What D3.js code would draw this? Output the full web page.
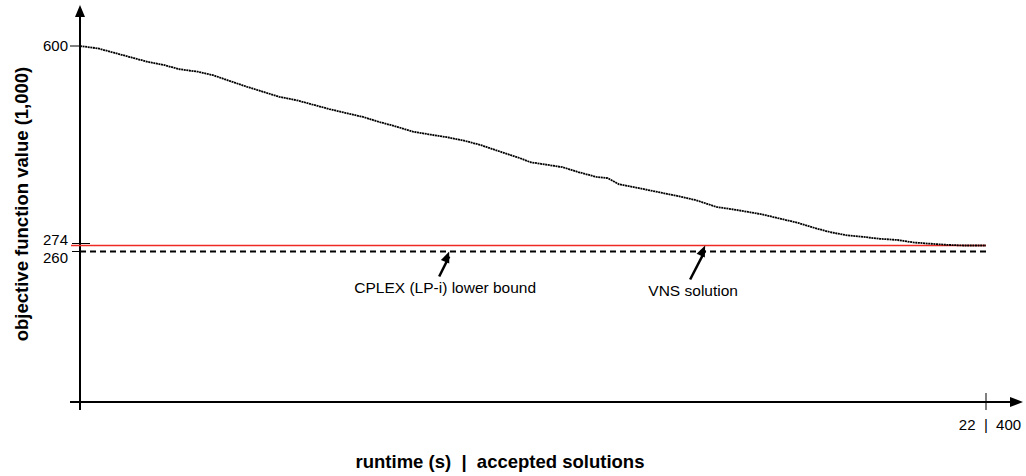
<html>
<head>
<style>
  body { margin: 0; background: #fff; }
  svg text { font-family: "Liberation Sans", Arial, sans-serif; fill: #000; }
  .tick-label { font-size: 15px; }
  .note { font-size: 15.5px; }
  .title { font-size: 18.5px; font-weight: bold; }
</style>
<script src="https://d3js.org/d3.v7.min.js"></script>
</head>
<body>
<svg width="1026" height="476"></svg>
<script>
// accepted solutions (x) and objective value in 1,000 (y)
const solutions = [0, 8, 15, 22, 30, 37, 44, 52, 59, 66, 74, 81, 88, 96, 103, 110, 118, 125, 132, 140,
  147, 155, 162, 170, 177, 185, 194, 199, 206, 213, 220, 228, 233, 238, 245, 257, 265, 272, 281, 290,
  301, 309, 317, 324, 331, 338, 346, 353, 361, 368, 375, 383, 390, 400];
const objective = [600, 596, 589, 582, 574, 569, 562, 558, 552, 543, 533, 525, 517, 511, 504, 497, 490, 484, 476, 468,
  460, 455, 451, 445, 438, 428, 417, 410, 406, 402, 394, 386, 384, 374, 369, 360, 354, 348, 337, 332,
  325, 318, 311, 303, 296, 291, 288, 285, 283, 279, 277, 275, 274, 274];

const yTicks = [600, 274, 260];
const vnsValue = 274;
const cplexValue = 260;
const xEndLabel = "22  |  400";
const xMax = 400;

const svg = d3.select("svg");

// the picture is a sketch: bounds are squeezed, so a piecewise scale
const xs = d3.scaleLinear().domain([0, xMax]).range([80, 986]);
const ys = d3.scaleLinear().domain([0, cplexValue, vnsValue, 600]).range([402, 251.5, 245.5, 46]);

// axes with arrow heads
svg.append("line").attr("x1", 80).attr("x2", 80).attr("y1", 410).attr("y2", 15)
  .attr("stroke", "#000").attr("stroke-width", 2);
svg.append("path").attr("d", "M80,5 L75,17 L85,17 Z").attr("fill", "#000");
svg.append("line").attr("x1", 70).attr("x2", 1011).attr("y1", 402).attr("y2", 402)
  .attr("stroke", "#000").attr("stroke-width", 2);
svg.append("path").attr("d", "M1023,402 L1010,397 L1010,407 Z").attr("fill", "#000");

// x end tick
svg.append("line").attr("x1", xs(xMax)).attr("x2", xs(xMax)).attr("y1", 393).attr("y2", 410)
  .attr("stroke", "#000").attr("stroke-width", 1);
svg.append("text").attr("class", "tick-label").attr("x", xs(xMax) + 4).attr("y", 430)
  .attr("text-anchor", "middle").attr("xml:space", "preserve").text(xEndLabel);

// y ticks
svg.append("line").attr("x1", 70).attr("x2", 80).attr("y1", ys(600)).attr("y2", ys(600))
  .attr("stroke", "#000");
svg.append("line").attr("x1", 72).attr("x2", 90).attr("y1", ys(vnsValue) - 2).attr("y2", ys(vnsValue) - 2)
  .attr("stroke", "#000");
svg.append("line").attr("x1", 72).attr("x2", 80).attr("y1", ys(cplexValue)).attr("y2", ys(cplexValue))
  .attr("stroke", "#000");
const yLabelShift = { 600: 5, 274: -1, 260: 11 };
svg.selectAll(".ylab").data(yTicks).enter().append("text")
  .attr("class", "tick-label").attr("x", 68).attr("y", d => ys(d) + yLabelShift[d])
  .attr("text-anchor", "end").text(d => d);

// bounds
svg.append("line").attr("x1", 71).attr("x2", xs(xMax)).attr("y1", ys(vnsValue)).attr("y2", ys(vnsValue))
  .attr("stroke", "#ee2a22").attr("stroke-width", 1.5);
svg.append("line").attr("x1", 80).attr("x2", xs(xMax)).attr("y1", ys(cplexValue)).attr("y2", ys(cplexValue))
  .attr("stroke", "#000").attr("stroke-width", 2).attr("stroke-dasharray", "6,4");

// objective curve
const line = d3.line().x((d, i) => xs(solutions[i])).y(d => ys(d));
svg.append("path").datum(objective).attr("d", line)
  .attr("fill", "none").attr("stroke", "#000").attr("stroke-width", 1.8)
  .attr("stroke-dasharray", "2,0.6");

// annotations
function note(sol, val, dx, dy, label, tx, ty) {
  const x = xs(sol), y = ys(val);
  svg.append("line").attr("x1", x + dx).attr("y1", y + dy).attr("x2", x).attr("y2", y + 5)
    .attr("stroke", "#000").attr("stroke-width", 2.5);
  const a = Math.atan2(-dy, -dx);
  const p1 = [x - 11 * Math.cos(a) + 4.5 * Math.sin(a), y - 11 * Math.sin(a) - 4.5 * Math.cos(a)];
  const p2 = [x - 11 * Math.cos(a) - 4.5 * Math.sin(a), y - 11 * Math.sin(a) + 4.5 * Math.cos(a)];
  svg.append("path").attr("d", "M" + x + "," + y + "L" + p1 + "L" + p2 + "Z").attr("fill", "#000");
  svg.append("text").attr("class", "note").attr("x", x + tx).attr("y", y + ty)
    .attr("text-anchor", "middle").text(label);
}
note(163, cplexValue, -10, 25, "CPLEX (LP-i) lower bound", -4, 41);
note(276, vnsValue, -15, 34, "VNS solution", -12, 50);

// titles
svg.append("text").attr("class", "title")
  .attr("transform", "translate(28,204) rotate(-90)").attr("text-anchor", "middle")
  .text("objective function value (1,000)");
svg.append("text").attr("class", "title").attr("x", 500).attr("y", 468)
  .attr("text-anchor", "middle").attr("xml:space", "preserve").text("runtime (s)  |  accepted solutions");
</script>
</body>
</html>
